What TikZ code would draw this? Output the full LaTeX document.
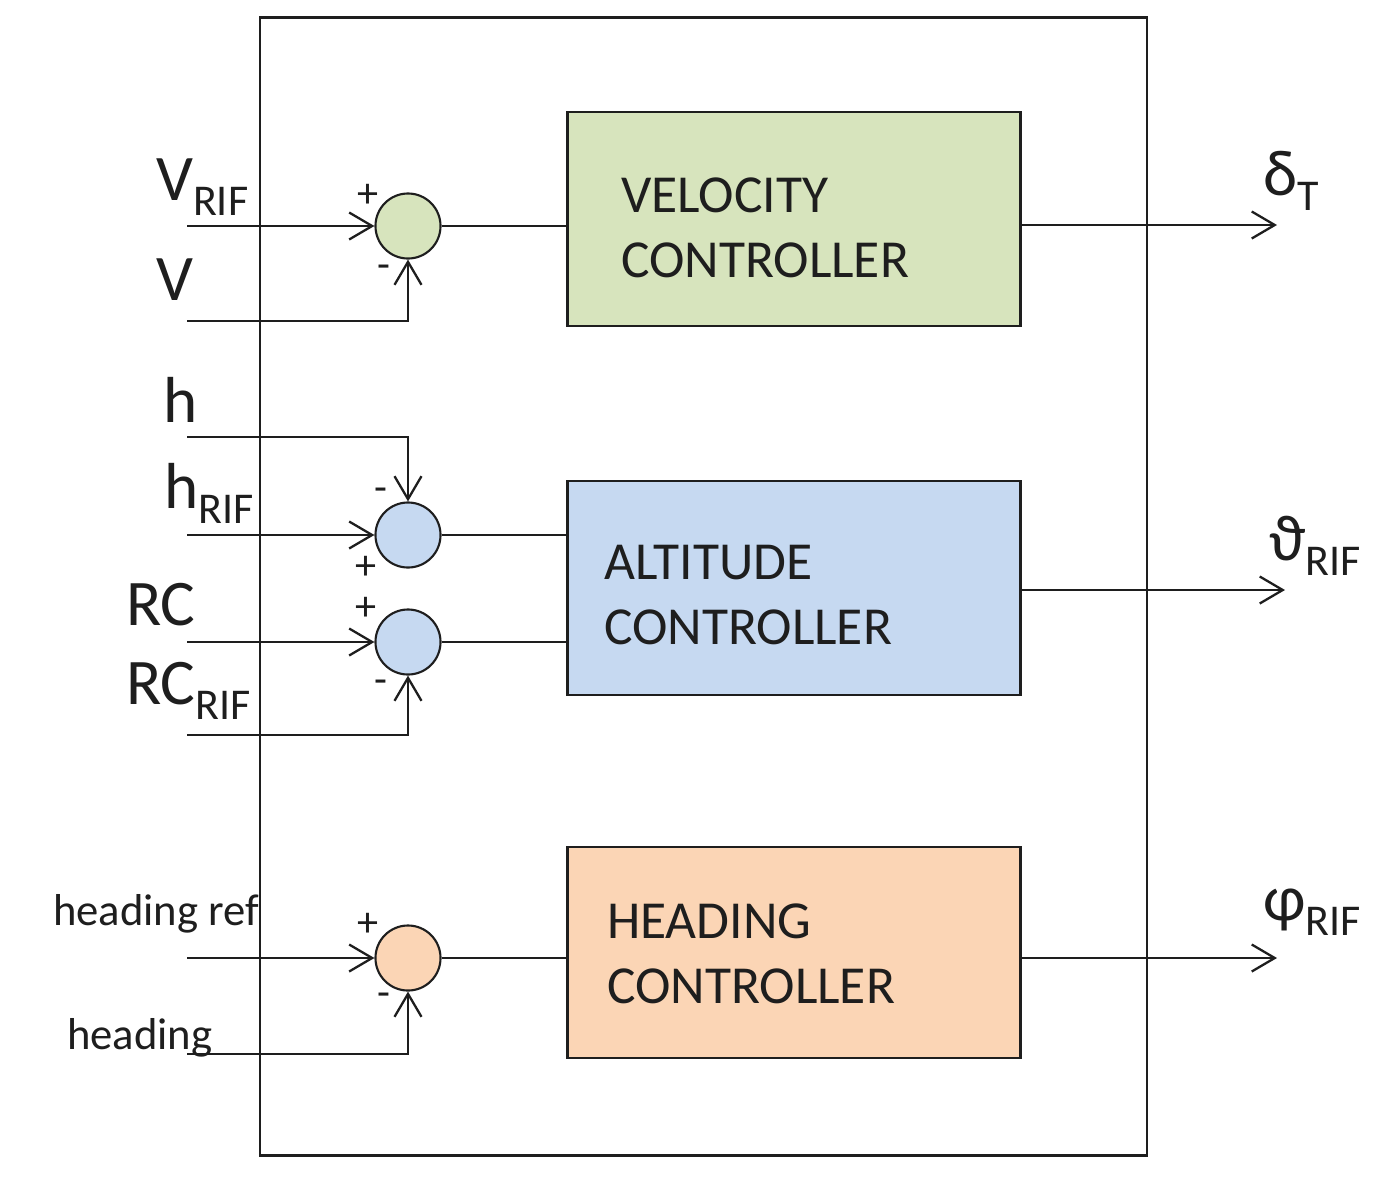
\documentclass[tikz,border=0pt]{standalone}
\usepackage{fontspec}
\setmainfont{Carlito}
\usetikzlibrary{arrows.meta}
\definecolor{velfill}{RGB}{215,228,189}
\definecolor{altfill}{RGB}{198,217,241}
\definecolor{hdgfill}{RGB}{251,213,181}
\definecolor{ink}{RGB}{30,30,30}
\newcommand{\lsub}[1]{\raisebox{-4.3pt}{\fontsize{12.5pt}{14pt}\selectfont #1}}
\begin{document}
\begin{tikzpicture}[x=0.01cm,y=-0.01cm,
  line width=0.65pt, draw=ink,
  arr/.style={-{Straight Barb[length=2.3mm,width=2.7mm,line width=0.65pt]}},
  ctrlbox/.style={draw=ink, line width=0.8pt, minimum width=4.52cm, minimum height=2.14cm, inner sep=0},
  sumnode/.style={circle, draw=ink, line width=0.6pt, minimum size=0.65cm, inner sep=0},
  boxtext/.style={inner sep=0, anchor=west, align=left, text=ink, font=\fontsize{15.2pt}{18.5pt}\selectfont},
  biglbl/.style={inner sep=0, anchor=base west, text=ink, font=\fontsize{18.5pt}{20pt}\selectfont},
  smalllbl/.style={inner sep=0, anchor=base west, text=ink, font=\fontsize{12.7pt}{14pt}\selectfont},
  sign/.style={inner sep=0, text=ink, font=\fontsize{12pt}{13pt}\selectfont}]
\useasboundingbox (0,0) rectangle (1378,1178);
\fill[white] (0,0) rectangle (1378,1178);

% frame
\node[draw=ink, line width=0.7pt, minimum width=8.87cm, minimum height=11.37cm, inner sep=0] (frame) at (703.5,586.5) {};

% controller boxes
\node[ctrlbox, fill=velfill] (vel) at (794,219) {};
\node[ctrlbox, fill=altfill] (alt) at (794,588) {};
\node[ctrlbox, fill=hdgfill, minimum height=2.11cm] (hdg) at (794,952.5) {};
\node[boxtext] (velT) at (620,228) {VELOCITY\\CONTROLLER};
\node[boxtext] (altT) at (603,595) {ALTITUDE\\CONTROLLER};
\node[boxtext] (hdgT) at (606,954) {HEADING\\CONTROLLER};

% summing junctions
\node[sumnode, fill=velfill] (s1) at (408,226) {};
\node[sumnode, fill=altfill] (s2) at (408,535) {};
\node[sumnode, fill=altfill] (s3) at (408,642) {};
\node[sumnode, fill=hdgfill] (s4) at (408,958) {};

% input start points
\coordinate (inVr) at (187,226);
\coordinate (inV) at (187,321);
\coordinate (inh) at (187,437);
\coordinate (inhr) at (187,535);
\coordinate (inRC) at (187,642);
\coordinate (inRCr) at (187,735);
\coordinate (inHr) at (187,958);
\coordinate (inH) at (187,1054);

% output end points
\coordinate (oD) at (1277,225);
\coordinate (oT) at (1285,590);
\coordinate (oP) at (1277,958);

% input connectors
\draw[arr] (inVr) -- (s1.west);
\draw[arr] (inV) -| (s1.south);
\draw[arr] (inh) -| (s2.north);
\draw[arr] (inhr) -- (s2.west);
\draw[arr] (inRC) -- (s3.west);
\draw[arr] (inRCr) -| (s3.south);
\draw[arr] (inHr) -- (s4.west);
\draw[arr] (inH) -| (s4.south);

% junction to controller
\draw (s1.east) -- (s1.east -| vel.west);
\draw (s2.east) -- (s2.east -| alt.west);
\draw (s3.east) -- (s3.east -| alt.west);
\draw (s4.east) -- (s4.east -| hdg.west);

% outputs
\draw[arr] (vel.east |- oD) -- (oD);
\draw[arr] (alt.east |- oT) -- (oT);
\draw[arr] (hdg.east |- oP) -- (oP);

% signs
\node[sign] (p1) at (368,196) {+};
\node[sign] (m1) at (384,272) {-};
\node[sign] (m2) at (381,495) {-};
\node[sign] (p2) at (366,568) {+};
\node[sign] (p3) at (366,609) {+};
\node[sign] (m3) at (381,687) {-};
\node[sign] (p4) at (368,925) {+};
\node[sign] (m4) at (384,1000) {-};

% input labels
\node[biglbl] (lVr) at (155,200) {V\lsub{RIF}};
\node[biglbl] (lV) at (155,300) {V};
\node[biglbl] (lh) at (162,422) {h};
\node[biglbl] (lhr) at (163,508) {h\lsub{RIF}};
\node[biglbl] (lRC) at (125,625) {RC};
\node[biglbl] (lRCr) at (125,704) {RC\lsub{RIF}};
\node[smalllbl] (lHr) at (52,925) {heading ref};
\node[smalllbl] (lH) at (66,1049) {heading};

% output labels
\node[biglbl] (lD) at (1262,195) {δ\lsub{T}};
\node[biglbl] (lT) at (1268,560) {ϑ\lsub{RIF}};
\node[biglbl] (lP) at (1262,920) {φ\lsub{RIF}};
\end{tikzpicture}
\end{document}
